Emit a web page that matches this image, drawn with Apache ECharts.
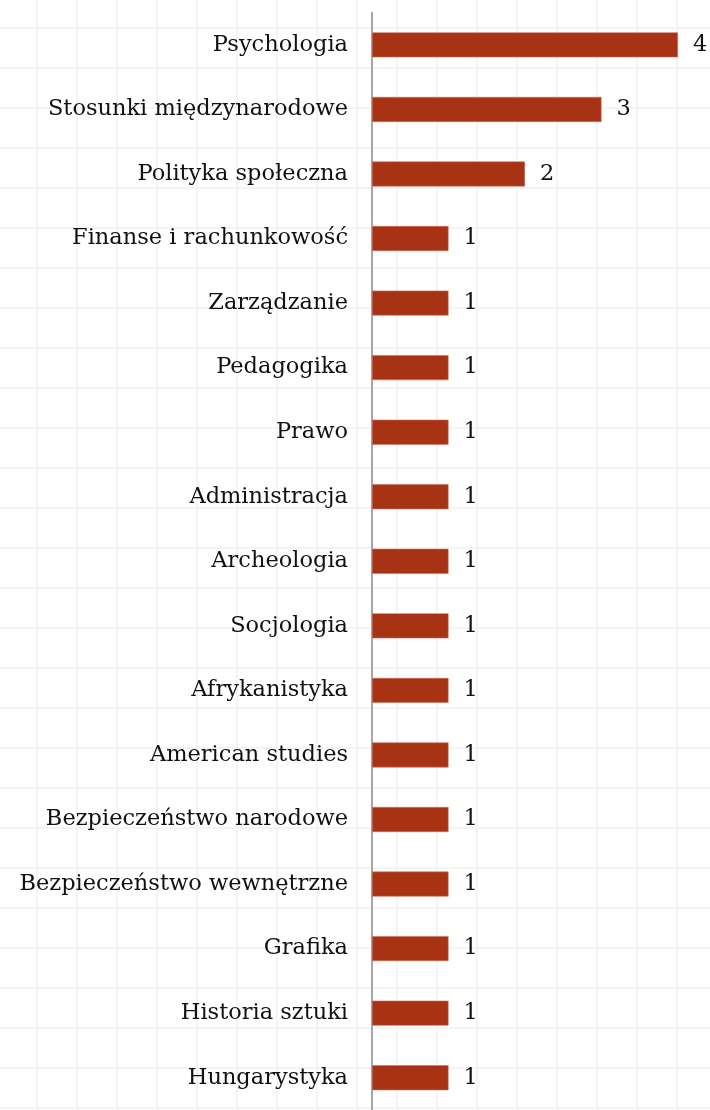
<!DOCTYPE html>
<html>
<head>
<meta charset="utf-8">
<script src="https://cdn.jsdelivr.net/npm/echarts@6/dist/echarts.min.js"></script>
<style>
    html, body { margin: 0; padding: 0; background: #fff; }
    /* tło w kratkę jak w arkuszu */
    #chart {
        width: 710px;
        height: 1110px;
        background-color: #fff;
        background-image:
            linear-gradient(to right, #f4f4f4 2px, transparent 2px),
            linear-gradient(to bottom, #f4f4f4 2px, transparent 2px);
        background-size: 40px 40px;
        background-position: -4px -13px;
    }
</style>
</head>
<body>
<div id="chart"></div>
<script>
//dane wykresu
var kierunki = ['Psychologia', 'Stosunki międzynarodowe', 'Polityka społeczna', 'Finanse i rachunkowość',
    'Zarządzanie', 'Pedagogika', 'Prawo', 'Administracja', 'Archeologia', 'Socjologia', 'Afrykanistyka',
    'American studies', 'Bezpieczeństwo narodowe', 'Bezpieczeństwo wewnętrzne', 'Grafika',
    'Historia sztuki', 'Hungarystyka'];
var liczba = [4, 3, 2, 1, 1, 1, 1, 1, 1, 1, 1, 1, 1, 1, 1, 1, 1];

//inicjalizacja wykresu
var chart = echarts.init(document.getElementById('chart'));

var option = {
    animation: false,
    grid: {
        left: 372,
        top: 12.6,
        width: 306,
        height: 1102
    },
    xAxis: {
        type: 'value',
        min: 0,
        max: 4,
        show: false
    },
    yAxis: {
        type: 'category',
        inverse: true,
        data: kierunki,
        axisTick: { show: false },
        axisLine: {
            lineStyle: { color: '#8a8a8a', width: 1.5 }
        },
        axisLabel: {
            margin: 24,
            fontFamily: 'DejaVu Serif',
            fontSize: 22.5,
            color: '#111'
        }
    },
    series: [{
        type: 'bar',
        data: liczba,
        barWidth: 25,
        itemStyle: {
            color: '#a73214',
            borderColor: '#c8735c',
            borderWidth: 0.6
        },
        label: {
            show: true,
            position: 'right',
            distance: 15,
            fontFamily: 'DejaVu Serif',
            fontSize: 22.5,
            color: '#111'
        }
    }]
};

chart.setOption(option);
</script>
</body>
</html>
